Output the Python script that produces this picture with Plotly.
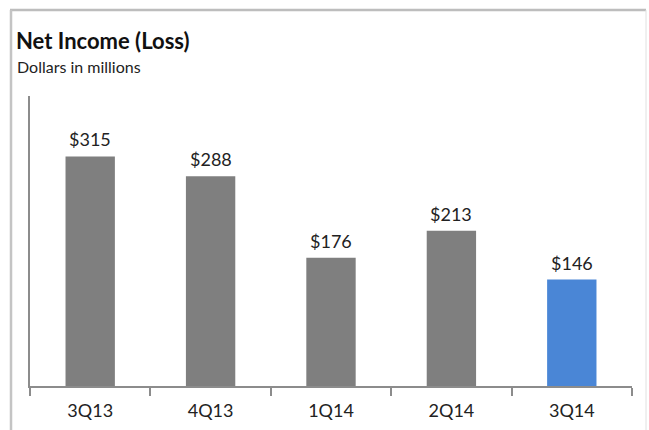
import plotly.graph_objects as go

categories = ["3Q13", "4Q13", "1Q14", "2Q14", "3Q14"]
values = [315, 288, 176, 213, 146]
bar_colors = ["#7f7f7f", "#7f7f7f", "#7f7f7f", "#7f7f7f", "#4a86d6"]
title_text = "Net Income (Loss)"
subtitle_text = "Dollars in millions"

W, H = 649, 430
L, R, T, B = 30, 17, 96, 44
PW, PH = W - L - R, H - T - B

def px(x):
    return (x - L) / PW

def py(y):
    return (H - B - y) / PH

FONT = "Lato, 'Open Sans', sans-serif"

fig = go.Figure(go.Bar(
    x=categories, y=values,
    marker=dict(color=bar_colors, line=dict(width=0)),
    width=0.41, hoverinfo="x+y",
))

label_annotations = [
    dict(x=c, y=v, xref="x", yref="y", text=f"${v}", showarrow=False,
         yanchor="bottom", yshift=4,
         font=dict(size=18, color="#222222", family=FONT))
    for c, v in zip(categories, values)
]

fig.update_layout(
    width=W, height=H,
    margin=dict(l=L, r=R, t=T, b=B),
    paper_bgcolor="white", plot_bgcolor="white",
    showlegend=False,
    xaxis=dict(
        type="category", range=[-0.5, 4.5], automargin=False,
        showline=True, linecolor="#8c8c8c", linewidth=1.5,
        ticks="outside", tickson="boundaries", ticklen=8, tickcolor="#8c8c8c", tickwidth=1.5,
        showgrid=False, zeroline=False, ticklabelstandoff=8,
        tickfont=dict(size=18, color="#222222", family=FONT),
    ),
    yaxis=dict(
        range=[0, 398], showline=True, linecolor="#8c8c8c", linewidth=1.5, automargin=False,
        showticklabels=False, ticks="", showgrid=False, zeroline=False,
    ),
    annotations=label_annotations + [
        dict(text=f"<b>{title_text}</b>", xref="paper", yref="paper",
             x=px(14), y=py(40), xanchor="left", yanchor="middle", showarrow=False,
             font=dict(size=22, color="#111111", family=FONT)),
        dict(text=subtitle_text, xref="paper", yref="paper",
             x=px(15), y=py(67), xanchor="left", yanchor="middle", showarrow=False,
             font=dict(size=16, color="#222222", family=FONT)),
    ],
    shapes=[
        dict(type="line", xref="paper", yref="paper", x0=px(10), x1=px(646), y0=py(10), y1=py(10),
             line=dict(color="#bdbdbd", width=2.5)),
        dict(type="line", xref="paper", yref="paper", x0=px(11), x1=px(11), y0=py(10), y1=py(430),
             line=dict(color="#c4c4c4", width=2.5)),
        dict(type="line", xref="paper", yref="paper", x0=px(646), x1=px(646), y0=py(10), y1=py(430),
             line=dict(color="#e0e0e0", width=1)),
    ],
)

fig.write_html("out.html")
